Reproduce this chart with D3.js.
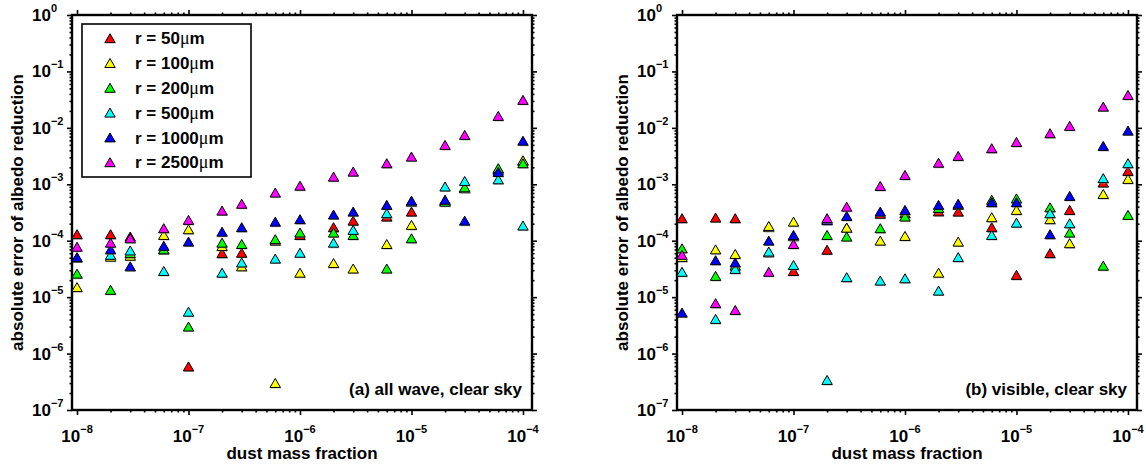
<!DOCTYPE html>
<html><head><meta charset="utf-8">
<script src="https://cdn.jsdelivr.net/npm/d3@7"></script>
<style>
body{margin:0;background:#fff}
svg text{font-family:"Liberation Sans",Arial,Helvetica,sans-serif;font-weight:bold;fill:#000}
</style>
</head><body>
<svg id="c" width="1146" height="467"></svg>
<script>
// ---------------- DATA ----------------
const dustFraction = [1e-8,2e-8,3e-8,6e-8,1e-7,2e-7,3e-7,6e-7,1e-6,2e-6,3e-6,6e-6,1e-5,2e-5,3e-5,6e-5,1e-4];
const radii = ["50","100","200","500","1000","2500"];
const colors = ["#ff0000","#ffff00","#00ff00","#00ffff","#0000ff","#ff00ff"];

// (a) all wave, clear sky
const allwave_r50   = [1.3e-4,1.3e-4,1.18e-4,7.0e-5,5.9e-7,6.0e-5,6.1e-5,1.0e-4,1.26e-4,1.73e-4,2.26e-4,2.67e-4,3.27e-4,5.0e-4,8.5e-4,1.8e-3,2.6e-3];
const allwave_r100  = [1.5e-5,5.2e-5,5.4e-5,1.26e-4,1.59e-4,8.0e-5,3.5e-5,3.0e-7,2.7e-5,4.0e-5,3.2e-5,8.7e-5,1.9e-4,5.1e-4,8.6e-4,1.85e-3,2.65e-3];
const allwave_r200  = [2.6e-5,1.34e-5,6.0e-5,7.0e-5,3.0e-6,9.2e-5,8.7e-5,1.06e-4,1.39e-4,1.39e-4,1.26e-4,3.2e-5,1.1e-4,4.9e-4,8.8e-4,1.92e-3,2.35e-3];
const allwave_r500  = [5.0e-5,5.6e-5,6.7e-5,2.9e-5,5.5e-6,2.7e-5,4.1e-5,4.8e-5,6.1e-5,9.2e-5,1.55e-4,3.06e-4,4.9e-4,9.1e-4,1.14e-3,1.22e-3,1.85e-4];
const allwave_r1000 = [5.1e-5,7.0e-5,3.5e-5,8.1e-5,9.6e-5,1.44e-4,1.73e-4,2.17e-4,2.4e-4,2.9e-4,3.27e-4,4.3e-4,5.1e-4,5.3e-4,2.26e-4,1.65e-3,5.9e-3];
const allwave_r2500 = [7.8e-5,9.2e-5,1.1e-4,1.66e-4,2.33e-4,3.4e-4,4.5e-4,7.1e-4,9.4e-4,1.36e-3,1.67e-3,2.35e-3,3.08e-3,4.97e-3,7.47e-3,1.62e-2,3.12e-2];

// (b) visible, clear sky
const visible_r50   = [2.5e-4,2.56e-4,2.5e-4,1.75e-4,2.9e-5,6.9e-5,1.7e-4,3.0e-4,3.06e-4,3.3e-4,3.27e-4,1.73e-4,2.47e-5,6.0e-5,3.5e-4,1.07e-3,1.72e-3];
const visible_r100  = [5.1e-5,7.0e-5,5.8e-5,1.82e-4,2.17e-4,2.4e-4,1.7e-4,1.0e-4,1.21e-4,2.7e-5,9.6e-5,2.6e-4,3.5e-4,2.4e-4,9.0e-5,6.7e-4,1.24e-3];
const visible_r200  = [7.3e-5,2.37e-5,3.6e-5,6.2e-5,1.2e-4,1.26e-4,1.18e-4,1.66e-4,2.67e-4,3.8e-4,4.3e-4,5.3e-4,5.6e-4,3.9e-4,1.39e-4,3.6e-5,2.86e-4];
const visible_r500  = [2.8e-5,4.1e-6,3.15e-5,6.4e-5,3.7e-5,3.4e-7,2.25e-5,1.96e-5,2.15e-5,1.3e-5,5.1e-5,1.26e-4,2.08e-4,3.06e-4,2.03e-4,1.28e-3,2.35e-3];
const visible_r1000 = [5.3e-6,4.5e-5,4.1e-5,1.0e-4,1.26e-4,2.3e-4,2.74e-4,3.27e-4,3.5e-4,4.3e-4,4.5e-4,4.8e-4,4.8e-4,1.3e-4,6.2e-4,4.77e-3,8.9e-3];
const visible_r2500 = [5.6e-5,7.8e-6,5.9e-6,2.8e-5,8.7e-5,2.5e-4,4.0e-4,9.3e-4,1.46e-3,2.4e-3,3.17e-3,4.34e-3,5.6e-3,8.0e-3,1.08e-2,2.37e-2,3.82e-2];

const xMajorExp = [-8,-7,-6,-5,-4];
const yMajorExp = [-7,-6,-5,-4,-3,-2,-1,0];

// ---------------- DRAWING ----------------
const svg = d3.select("#c");
const W = 460, TOP = 15, BOT = 410;
const tri = "M0,-4.6L5.2,4.4L-5.2,4.4Z";

function panel(px, series, label, withLegend){
  const x = d3.scaleLog().domain([Math.pow(10,-8.045), Math.pow(10,-3.919)]).range([px, px+W]);
  const y = d3.scaleLog().domain([1e-7, 1]).range([BOT, TOP]);
  const g = svg.append("g");

  const xMaj = xMajorExp.map(e => Math.pow(10,e));
  const xMin = [];
  for (let e=-9; e<=-4; e++) for (let m=2; m<=9; m++){ const v=m*Math.pow(10,e); if (v>x.domain()[0] && v<x.domain()[1]) xMin.push(v); }
  const yMaj = yMajorExp.map(e => Math.pow(10,e));
  const yMin = [];
  for (let e=-7; e<0; e++) for (let m=2; m<=9; m++) yMin.push(m*Math.pow(10,e));

  const ax = (gen, tr, vals, size) => {
    const a = g.append("g").attr("transform", tr)
      .call(gen.tickValues(vals).tickSize(size).tickSizeOuter(0).tickFormat(""));
    a.select(".domain").remove();
    a.selectAll("line").attr("stroke","#000").attr("stroke-width",1.6);
  };
  ax(d3.axisBottom(x), `translate(0,${BOT})`, xMaj, 5);
  ax(d3.axisBottom(x), `translate(0,${BOT})`, xMin, 2.5);
  ax(d3.axisTop(x), `translate(0,${TOP})`, xMaj, 5);
  ax(d3.axisTop(x), `translate(0,${TOP})`, xMin, 2.5);
  ax(d3.axisLeft(y), `translate(${px},0)`, yMaj, 5);
  ax(d3.axisLeft(y), `translate(${px},0)`, yMin, 2.5);
  ax(d3.axisRight(y), `translate(${px+W},0)`, yMaj, 5);
  ax(d3.axisRight(y), `translate(${px+W},0)`, yMin, 2.5);

  g.append("rect").attr("x",px).attr("y",TOP).attr("width",W).attr("height",BOT-TOP)
    .attr("fill","none").attr("stroke","#000").attr("stroke-width",2.4);

  // x tick labels
  xMajorExp.forEach(e => {
    const t = g.append("text").attr("x", x(Math.pow(10,e))).attr("y", 442)
      .attr("text-anchor","middle").style("font-size","17px");
    t.append("tspan").text("10");
    t.append("tspan").attr("dy",-9).style("font-size","11px").text(e===0?"0":"\u2212"+(-e));
  });
  // y tick labels
  yMajorExp.forEach(e => {
    const t = g.append("text").attr("x", px-40).attr("y", y(Math.pow(10,e))+6)
      .attr("text-anchor","start").style("font-size","17px");
    t.append("tspan").text("10");
    t.append("tspan").attr("dy",-9).style("font-size","11px").text(e===0?"0":"\u2212"+(-e));
  });

  // axis titles
  g.append("text").attr("x", px+W/2).attr("y", 459).attr("text-anchor","middle")
    .style("font-size","17px").text("dust mass fraction");
  g.append("text").attr("transform", `translate(${px-49},${(TOP+BOT)/2}) rotate(-90)`)
    .attr("text-anchor","middle").style("font-size","17px").text("absolute error of albedo reduction");

  // panel label
  g.append("text").attr("x", px+W-10).attr("y", 395).attr("text-anchor","end")
    .style("font-size","17px").text(label);

  // points
  series.forEach((vals, si) => {
    const s = g.append("g");
    vals.forEach((v, i) => {
      const cx = x(dustFraction[i]), cy = y(v);
      s.append("path").attr("d", tri).attr("transform", `translate(${cx+0.8},${cy+1})`)
        .attr("fill","#9a9a9a").attr("opacity",0.7);
      s.append("path").attr("d", tri).attr("transform", `translate(${cx},${cy})`)
        .attr("fill", colors[si]).attr("stroke","#000").attr("stroke-width",1);
    });
  });

  if (withLegend){
    const lg = g.append("g");
    lg.append("rect").attr("x", px+10).attr("y", 24).attr("width", 169).attr("height", 153)
      .attr("fill","#fff").attr("stroke","#000").attr("stroke-width",1.6);
    const rowY = d3.scalePoint().domain(radii).range([38.3, 162.3]);
    radii.forEach((r, i) => {
      const ry = rowY(r);
      lg.append("path").attr("d", tri).attr("transform", `translate(${px+38},${ry})`)
        .attr("fill", colors[i]).attr("stroke","#000").attr("stroke-width",1);
      const t = lg.append("text").attr("x", px+63).attr("y", ry+6).style("font-size","17px");
      t.append("tspan").text("r = " + r);
      t.append("tspan").style("font-family","'Liberation Serif','Times New Roman',serif")
        .style("font-weight","normal").style("font-size","18px").text("\u03bc");
      t.append("tspan").text("m");
    });
  }
}

panel(72, [allwave_r50, allwave_r100, allwave_r200, allwave_r500, allwave_r1000, allwave_r2500],
      "(a) all wave, clear sky", true);
panel(677, [visible_r50, visible_r100, visible_r200, visible_r500, visible_r1000, visible_r2500],
      "(b) visible, clear sky", false);
</script>
</body></html>
